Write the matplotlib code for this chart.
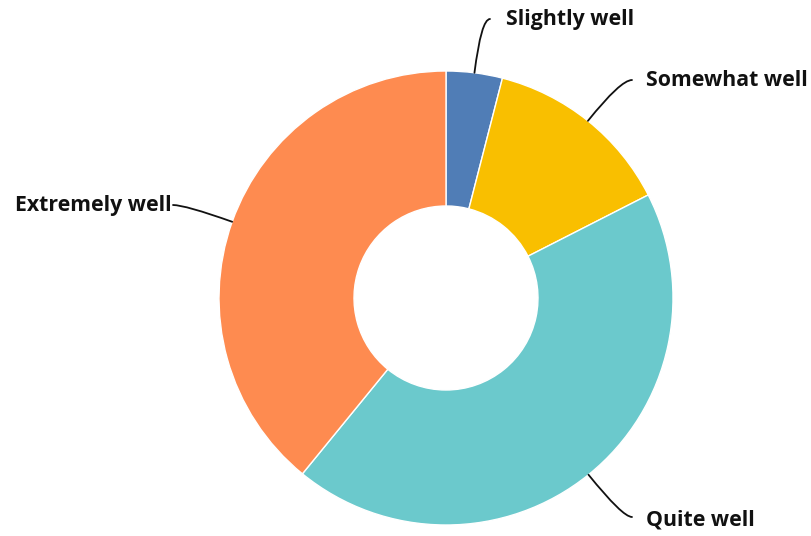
import numpy as np
import matplotlib
matplotlib.use("Agg")
import matplotlib.pyplot as plt

labels = ["Slightly well", "Somewhat well", "Quite well", "Extremely well"]
shares = [4.0, 13.5, 43.4, 39.1]
colors = ["#507DB6", "#F9BF00", "#6BC9CC", "#FE8B50"]

W, H = 811, 536
CX, CY = 446, 238                       # pie centre in pixel units (y up)
R_OUT, R_IN = 227, 92

# label anchor (x, y of text), text alignment, leader end point
label_pos = {
    "Slightly well":  ((506, 516), "left",  (490, 517)),
    "Somewhat well":  ((646, 456), "left",  (632, 456)),
    "Quite well":     ((646, 16),  "left",  (632, 19)),
    "Extremely well": ((172, 330), "right", (173, 331)),
}

plt.rcParams["font.family"] = ["Open Sans", "DejaVu Sans"]
fig = plt.figure(figsize=(W / 100, H / 100), dpi=100)
ax = fig.add_axes([0, 0, 1, 1])

wedges, _ = ax.pie(shares, colors=colors, startangle=90, counterclock=False,
                   center=(CX, CY), radius=R_OUT, frame=True,
                   wedgeprops=dict(width=R_OUT - R_IN, edgecolor="white", linewidth=1))
ax.set_xlim(0, W); ax.set_ylim(0, H)
ax.set_aspect("equal"); ax.axis("off")

for w, lab in zip(wedges, labels):
    mid = np.deg2rad((w.theta1 + w.theta2) / 2)
    px, py = CX + R_OUT * np.cos(mid), CY + R_OUT * np.sin(mid)
    (tx, ty), ha, (ex, ey) = label_pos[lab]
    ang_b = np.rad2deg(mid)
    ax.annotate("", xy=(px, py), xytext=(ex, ey),
                arrowprops=dict(arrowstyle="-", color="#111111", lw=1.3,
                                shrinkA=0, shrinkB=0,
                                connectionstyle=f"angle3,angleA=0,angleB={ang_b:.1f}"))
    ax.text(tx, ty, lab, ha=ha, va="center", fontsize=15.3, fontweight="bold",
            color="#111111")

fig.savefig("out.png", dpi=100)
